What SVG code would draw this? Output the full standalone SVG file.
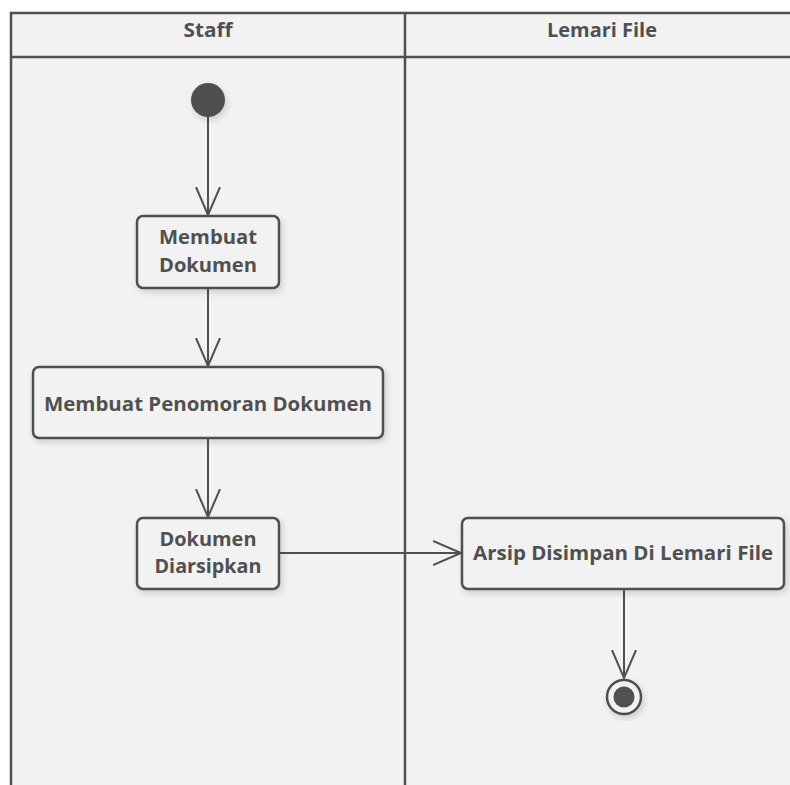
<svg xmlns="http://www.w3.org/2000/svg" width="790" height="785" viewBox="0 0 790 785">
<style>
.lane{fill:#f2f2f2;stroke:#505050;stroke-width:2.5}
.box{fill:#f2f2f2;stroke:#505050;stroke-width:2.5}
.t{font-family:"Open Sans","DejaVu Sans",sans-serif;font-weight:bold;font-size:20px;fill:#505050;text-anchor:middle}
.h{font-family:"Open Sans","DejaVu Sans",sans-serif;font-weight:bold;font-size:19.5px;fill:#505050;text-anchor:middle}
.c{stroke:#505050;stroke-width:2;fill:none}
</style>
<defs>
<filter id="sh" x="-20%" y="-20%" width="140%" height="140%">
<feGaussianBlur in="SourceAlpha" stdDeviation="3.5"/>
<feOffset dx="2" dy="3"/>
<feComponentTransfer><feFuncA type="linear" slope="0.16"/></feComponentTransfer>
<feMerge><feMergeNode/><feMergeNode in="SourceGraphic"/></feMerge>
</filter>
<marker id="arr" markerWidth="30" markerHeight="28" refX="28" refY="13" orient="auto" markerUnits="userSpaceOnUse">
<path d="M0,1 L28,13 L0,25" fill="none" stroke="#505050" stroke-width="2"/>
</marker>
</defs>
<rect width="790" height="785" fill="#ffffff"/>
<g id="lanes">
<rect class="lane" x="11" y="13" width="800" height="800"/>
<line x1="11" y1="57" x2="790" y2="57" stroke="#505050" stroke-width="2.5"/>
<line x1="405" y1="13" x2="405" y2="785" stroke="#505050" stroke-width="2.5"/>
<text class="h" x="208" y="37" textLength="49" lengthAdjust="spacingAndGlyphs">Staff</text>
<text class="h" x="602" y="37" textLength="110" lengthAdjust="spacingAndGlyphs">Lemari File</text>
</g>
<g id="connectors">
<line class="c" x1="208" y1="117" x2="208" y2="215" marker-end="url(#arr)"/>
<line class="c" x1="208" y1="289" x2="208" y2="366" marker-end="url(#arr)"/>
<line class="c" x1="208" y1="439" x2="208" y2="517" marker-end="url(#arr)"/>
<line class="c" x1="280" y1="553" x2="461" y2="553" marker-end="url(#arr)"/>
<line class="c" x1="624" y1="590" x2="624" y2="678" marker-end="url(#arr)"/>
</g>
<g id="start">
<circle cx="208" cy="100" r="17" fill="#505050" filter="url(#sh)"/>
</g>
<g id="n1">
<rect class="box" x="137" y="216" width="142" height="72" rx="6" filter="url(#sh)"/>
<text class="t" x="208" y="244" textLength="98" lengthAdjust="spacingAndGlyphs">Membuat</text>
<text class="t" x="208" y="272" textLength="98" lengthAdjust="spacingAndGlyphs">Dokumen</text>
</g>
<g id="n2">
<rect class="box" x="33" y="367" width="350" height="71" rx="6" filter="url(#sh)"/>
<text class="t" x="208" y="411" textLength="328" lengthAdjust="spacingAndGlyphs">Membuat Penomoran Dokumen</text>
</g>
<g id="n3">
<rect class="box" x="137" y="518" width="142" height="71" rx="6" filter="url(#sh)"/>
<text class="t" x="208" y="546" textLength="97" lengthAdjust="spacingAndGlyphs">Dokumen</text>
<text class="t" x="208" y="573" textLength="107" lengthAdjust="spacingAndGlyphs">Diarsipkan</text>
</g>
<g id="n4">
<rect class="box" x="462" y="518" width="322" height="71" rx="6" filter="url(#sh)"/>
<text class="t" x="623" y="560" textLength="300" lengthAdjust="spacingAndGlyphs">Arsip Disimpan Di Lemari File</text>
</g>
<g id="end">
<circle cx="624" cy="697" r="17" fill="#f2f2f2" stroke="#505050" stroke-width="2.5" filter="url(#sh)"/>
<circle cx="624" cy="697" r="10.5" fill="#505050"/>
</g>
</svg>
